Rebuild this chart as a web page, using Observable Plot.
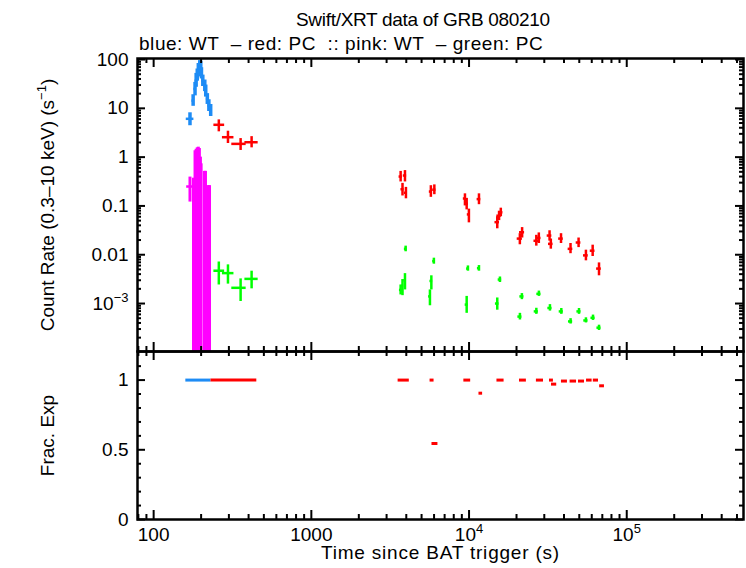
<!DOCTYPE html>
<html>
<head>
<meta charset="utf-8">
<script src="https://cdn.jsdelivr.net/npm/d3@7"></script>
<script src="https://cdn.jsdelivr.net/npm/@observablehq/plot@0.6"></script>
<style>
  body { margin: 0; background: #fff; }
  #chart { position: relative; width: 746px; height: 568px; font-family: "Liberation Sans", Arial, sans-serif; color: #000; }
  #chart svg { position: absolute; left: 0; overflow: visible; }
  .head { position: absolute; font-size: 19px; line-height: 19px; white-space: pre; }
</style>
</head>
<body>
<div id="chart">
  <div class="head" id="title" style="left:296px;top:10px;letter-spacing:-0.3px;">Swift/XRT data of GRB 080210</div>
  <div class="head" id="subtitle" style="left:139px;top:34px;letter-spacing:0.55px;">blue: WT  – red: PC  :: pink: WT  – green: PC</div>
</div>
<script>
// ---- WT mode count rate (blue) ----
const wtTime   = [170, 178, 183, 186, 189, 192, 196, 199, 201, 205, 211, 214, 219, 224, 230];
const wtTimeLo = [161, 175, 180, 183, 186, 189, 193, 196, 198, 202, 207, 211, 216, 221, 226];
const wtTimeHi = [180, 181, 186, 189, 192, 195, 199, 202, 204, 208, 214, 217, 222, 227, 234];
const wtRate   = [6.1, 14.4, 25, 37, 48, 60, 72, 78, 52, 37, 29, 23, 15.6, 11.4, 9.0];
const wtRateLo = [4.4, 11, 18, 27, 36, 44, 54, 60, 40, 28, 22, 17, 12, 8.6, 6.8];
const wtRateHi = [8.1, 19, 34, 52, 64, 83, 95, 92, 68, 48, 38, 30, 20, 15, 12];

// ---- PC mode count rate (red) ----
const pcTime   = [259, 296, 356, 418, 3683, 3785, 3924, 3980, 5727, 6025, 9420, 9660, 9980, 11560,
                  15100, 15500, 15900, 21000, 21700, 26700, 27700, 32400, 33000, 38300, 44000, 49500, 55100, 60800, 66700];
const pcTimeLo = [241, 273, 313, 379, 3600, 3700, 3830, 3890, 5600, 5880, 9200, 9430, 9750, 11250,
                  14600, 15000, 15400, 20200, 20900, 25800, 26800, 31300, 31900, 37000, 42500, 47800, 53200, 58700, 64400];
const pcTimeHi = [282, 323, 386, 460, 3770, 3870, 4020, 4070, 5860, 6170, 9640, 9890, 10210, 11880,
                  15600, 16000, 16400, 21800, 22500, 27600, 28600, 33500, 34100, 39600, 45500, 51200, 57000, 62900, 69000];
const pcRate   = [4.6, 2.56, 1.87, 2.02, 0.40, 0.22, 0.42, 0.186, 0.197, 0.215, 0.142, 0.111, 0.067, 0.138,
                  0.0465, 0.063, 0.074, 0.0214, 0.0289, 0.0193, 0.0221, 0.0247, 0.0167, 0.0214, 0.0132, 0.0178, 0.0097, 0.0121, 0.0052];
const pcRateLo = [3.3, 1.9, 1.37, 1.55, 0.31, 0.16, 0.31, 0.14, 0.15, 0.17, 0.10, 0.083, 0.045, 0.106,
                  0.034, 0.05, 0.06, 0.016, 0.022, 0.015, 0.017, 0.019, 0.013, 0.017, 0.0105, 0.014, 0.0075, 0.0092, 0.0037];
const pcRateHi = [5.8, 3.4, 2.4, 2.63, 0.51, 0.29, 0.53, 0.24, 0.26, 0.27, 0.177, 0.143, 0.086, 0.177,
                  0.06, 0.078, 0.09, 0.027, 0.036, 0.025, 0.028, 0.031, 0.021, 0.027, 0.017, 0.022, 0.0124, 0.0157, 0.0068];

// ---- WT mode hardness (pink); lower bounds fall below the axis ----
const hwtTime   = [170, 179, 183, 186, 189, 192, 195, 198, 200, 210, 212, 213, 220, 224, 226];
const hwtTimeLo = [162, 178, 182, 185, 188, 191, 194, 197, 199, 209, 209, 212, 219, 223, 222];
const hwtTimeHi = [180, 180, 184, 187, 190, 193, 196, 199, 201, 211, 218, 214, 221, 225, 230];
const hwtRate   = [0.25, 0.12, 0.5, 0.6, 0.7, 0.8, 0.6, 0.45, 0.3, 0.2, 0.25, 0.2, 0.1, 0.1, 0.12];
const hwtRateLo = [0.12, 1e-5, 1e-5, 1e-5, 1e-5, 1e-5, 1e-5, 1e-5, 1e-5, 1e-5, 1e-5, 1e-5, 1e-5, 1e-5, 1e-5];
const hwtRateHi = [0.39, 0.37, 1.35, 1.45, 1.55, 1.6, 1.5, 1.0, 0.73, 0.51, 0.51, 0.51, 0.26, 0.26, 0.26];

// ---- PC mode hardness (green) ----
const hpcTime   = [259, 296, 356, 418, 3683, 3785, 3924, 3963, 5650, 5767, 5985, 9660, 9840, 11560,
                   15100, 15700, 21020, 21630, 26710, 27730, 32580, 38470, 44040, 49800, 55090, 61100, 66700];
const hpcTimeLo = [241, 273, 313, 379, 3620, 3720, 3860, 3890, 5540, 5650, 5880, 9450, 9650, 11300,
                   14700, 15300, 20400, 21000, 25900, 26900, 31600, 37300, 42700, 48300, 53400, 59300, 64700];
const hpcTimeHi = [282, 323, 386, 460, 3750, 3850, 3990, 4040, 5760, 5880, 6100, 9870, 10040, 11820,
                   15500, 16100, 21650, 22300, 27500, 28600, 33600, 39600, 45400, 51300, 56800, 63000, 68700];
const hpcRate   = [0.0047, 0.0042, 0.0021, 0.0032, 0.0019, 0.0023, 0.0030, 0.0132, 0.0014, 0.0029, 0.0074, 0.00095, 0.0052, 0.0053,
                   0.0010, 0.0031, 0.00054, 0.0014, 0.00069, 0.00158, 0.00081, 0.00069, 0.00043, 0.00069, 0.00045, 0.00051, 0.00032];
const hpcRateLo = [0.0024, 0.0025, 0.0011, 0.0020, 0.0015, 0.00145, 0.0019, 0.0115, 0.0009, 0.0019, 0.0064, 0.00063, 0.0046, 0.0046,
                   0.00073, 0.0027, 0.00046, 0.0012, 0.0006, 0.0014, 0.0007, 0.0006, 0.00038, 0.0006, 0.0004, 0.00045, 0.00028];
const hpcRateHi = [0.0071, 0.0062, 0.0032, 0.0046, 0.0024, 0.0031, 0.0041, 0.015, 0.0019, 0.0037, 0.0085, 0.0014, 0.0059, 0.006,
                   0.0013, 0.0035, 0.00063, 0.0016, 0.0008, 0.0018, 0.00095, 0.00079, 0.00049, 0.00079, 0.00051, 0.00058, 0.00036];

// ---- fractional exposure per bin ----
const wtExpStart = [160];
const wtExpEnd   = [231];
const wtExpFrac  = [1];
const pcExpStart = [231, 3550, 5660, 5820, 9270, 11560, 15030, 20890, 26740, 32360, 33340, 38550, 43730, 49430, 55590, 61390, 67340];
const pcExpEnd   = [451, 4180, 6000, 6350, 10240, 12190, 16680, 23100, 29650, 34280, 35970, 42070, 48040, 53950, 60300, 66220, 72220];
const pcExpFrac  = [1, 1, 1, 0.545, 1, 0.906, 1, 1, 1, 1, 0.971, 0.993, 0.993, 0.993, 1, 1, 0.959];

// ---- axis ticks ----
const xMajor = [100, 1000, 1e4, 1e5];
const xMajorLabels = ["100", "1000", "10^{4}", "10^{5}"];
const yRateMajor = [1e-3, 0.01, 0.1, 1, 10, 100];
const yRateLabels = ["10^{−3}", "0.01", "0.1", "1", "10", "100"];
const yExpMajor = [0, 0.5, 1];
const yExpLabels = ["0", "0.5", "1"];
const yExpMinor = [0.1, 0.2, 0.3, 0.4, 0.6, 0.7, 0.8, 0.9, 1.1];

const COLORS = {wt: "#1e8cf5", pc: "#ff0000", hwt: "#ff00ff", hpc: "#00ff00"};
const FONT = 19;
const XDOMAIN = [79, 5.5e5];
const LEFT = 137, RIGHT = 743, TOP = 58, MID = 351, BOTTOM = 519;
const W = RIGHT - LEFT;

function logMinor(lo, hi) {
  const out = [];
  for (let d = 1e-5; d <= 1e6; d *= 10)
    for (let k = 2; k <= 9; k++) {
      const v = +(k * d).toPrecision(3);
      if (v > lo && v < hi) out.push(v);
    }
  return out;
}
const xMinor = logMinor(XDOMAIN[0], XDOMAIN[1]);

function rows(t, tLo, tHi, r, rLo, rHi) {
  return t.map((d, i) => ({t: d, tLo: tLo[i], tHi: tHi[i], r: r[i], rLo: rLo[i], rHi: rHi[i]}));
}
function cross(data, color, w) {
  return [
    Plot.ruleX(data, {x: "t", y1: "rLo", y2: "rHi", stroke: color, strokeWidth: w, clip: true}),
    Plot.ruleY(data, {y: "r", x1: "tLo", x2: "tHi", stroke: color, strokeWidth: 2.5, clip: true})
  ];
}
function edgeTicks(xMaj, xMin, yMaj, yMin, H) {
  const s = {stroke: "#000", strokeWidth: 2};
  return [
    Plot.ruleX(xMaj, {x: d => d, insetBottom: H - 9, ...s}),
    Plot.ruleX(xMaj, {x: d => d, insetTop: H - 9, ...s}),
    Plot.ruleX(xMin, {x: d => d, insetBottom: H - 5, ...s}),
    Plot.ruleX(xMin, {x: d => d, insetTop: H - 5, ...s}),
    Plot.ruleY(yMaj, {y: d => d, insetRight: W - 8, ...s}),
    Plot.ruleY(yMaj, {y: d => d, insetLeft: W - 8, ...s}),
    Plot.ruleY(yMin, {y: d => d, insetRight: W - 4, ...s}),
    Plot.ruleY(yMin, {y: d => d, insetLeft: W - 4, ...s})
  ];
}
const fmt = (vals, labels) => d => labels[vals.indexOf(d)] ?? "";

// turn "a^{b}c" into text with a raised, smaller b
function superscripts(svg) {
  d3.select(svg).selectAll("text").each(function () {
    const target = this.querySelector("tspan") || this;
    const s = target.textContent;
    if (!s.includes("^{")) return;
    const parts = s.split(/\^\{([^}]*)\}/);
    const el = d3.select(target);
    el.text(null);
    const up = Math.round(FONT * 0.42);
    let raised = false;
    parts.forEach((p, i) => {
      if (!p) return;
      const ts = el.append("tspan").text(p);
      if (i % 2) { ts.attr("font-size", Math.round(FONT * 0.7)).attr("dy", -up); raised = true; }
      else if (raised) { ts.attr("dy", up); raised = false; }
    });
  });
}

const style = {fontFamily: "'Liberation Sans', Arial, sans-serif", fontSize: FONT + "px", background: "transparent", overflow: "visible"};

// ---- count rate panel ----
const rateTop = Plot.plot({
  width: 746, height: MID,
  marginLeft: LEFT, marginRight: 746 - RIGHT, marginTop: TOP, marginBottom: 0,
  style,
  x: {type: "log", domain: XDOMAIN, axis: null},
  y: {type: "log", domain: [1.04e-4, 105]},
  marks: [
    ...cross(rows(hwtTime, hwtTimeLo, hwtTimeHi, hwtRate, hwtRateLo, hwtRateHi), COLORS.hwt, 3),
    ...cross(rows(wtTime, wtTimeLo, wtTimeHi, wtRate, wtRateLo, wtRateHi), COLORS.wt, 3.5),
    ...cross(rows(pcTime, pcTimeLo, pcTimeHi, pcRate, pcRateLo, pcRateHi), COLORS.pc, 2.5),
    ...cross(rows(hpcTime, hpcTimeLo, hpcTimeHi, hpcRate, hpcRateLo, hpcRateHi), COLORS.hpc, 2.5),
    ...edgeTicks(xMajor, xMinor, yRateMajor, logMinor(1.04e-4, 105), MID - TOP),
    Plot.axisY(yRateMajor, {anchor: "left", tickSize: 0, tickPadding: 9, tickFormat: fmt(yRateMajor, yRateLabels), label: null}),
    Plot.text(["Count Rate (0.3–10 keV) (s^{−1})"], {frameAnchor: "left", textAnchor: "middle", dx: -90, rotate: -90, fontSize: FONT}),
    Plot.frame({stroke: "#000", strokeWidth: 2.5})
  ]
});
rateTop.style.top = "0px";

// ---- fractional exposure panel ----
const expBottom = Plot.plot({
  width: 746, height: 568 - MID,
  marginLeft: LEFT, marginRight: 746 - RIGHT, marginTop: 0, marginBottom: 568 - BOTTOM,
  style,
  x: {type: "log", domain: XDOMAIN},
  y: {domain: [0, 1.205]},
  marks: [
    Plot.ruleY(wtExpFrac.map((f, i) => ({f, a: wtExpStart[i], b: wtExpEnd[i]})), {y: "f", x1: "a", x2: "b", stroke: COLORS.wt, strokeWidth: 3}),
    Plot.ruleY(pcExpFrac.map((f, i) => ({f, a: pcExpStart[i], b: pcExpEnd[i]})), {y: "f", x1: "a", x2: "b", stroke: COLORS.pc, strokeWidth: 3}),
    ...edgeTicks(xMajor, xMinor, yExpMajor, yExpMinor, BOTTOM - MID),
    Plot.axisX(xMajor, {anchor: "bottom", tickSize: 0, tickPadding: 8, tickFormat: fmt(xMajor, xMajorLabels), label: null}),
    Plot.axisY(yExpMajor, {anchor: "left", tickSize: 0, tickPadding: 9, tickFormat: fmt(yExpMajor, yExpLabels), label: null}),
    Plot.text(["Frac. Exp"], {frameAnchor: "left", textAnchor: "middle", dx: -90, rotate: -90, fontSize: FONT}),
    Plot.text(["Time since BAT trigger (s)"], {frameAnchor: "bottom", dy: 33, lineAnchor: "middle", fontSize: FONT, letterSpacing: 0.8}),
    Plot.frame({stroke: "#000", strokeWidth: 2.5})
  ]
});
expBottom.style.top = MID + "px";

const chart = document.getElementById("chart");
chart.append(rateTop, expBottom);
superscripts(rateTop);
superscripts(expBottom);
// gnuplot-style spacing on the axis title
d3.select(expBottom).selectAll("text").filter(function () { return this.textContent.startsWith("Time"); })
  .style("letter-spacing", "0.8px");
</script>
</body>
</html>
